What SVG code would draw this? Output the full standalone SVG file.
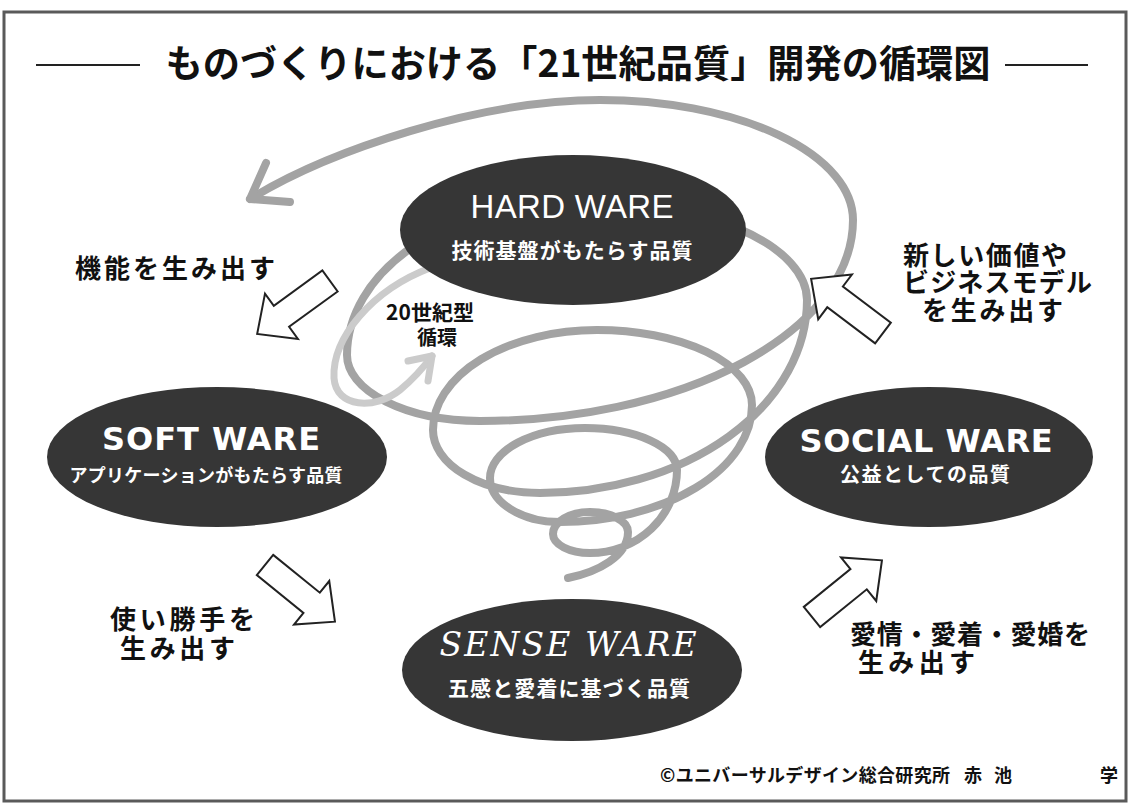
<svg xmlns="http://www.w3.org/2000/svg" width="1130" height="805" viewBox="0 0 1130 805">
<style>
.jp{font-family:"Noto Sans CJK JP","Noto Sans CJK SC",sans-serif;font-weight:700;}
.lbl{font-size:26px;fill:#111;}
.ell{fill:#363636;}
.wt{fill:#fff;text-anchor:middle;}
.sp{fill:none;stroke:#a3a3a3;stroke-width:8;stroke-linecap:round;stroke-linejoin:round;}
.sp2{fill:none;stroke:#cbcbcb;stroke-width:7;stroke-linecap:round;stroke-linejoin:round;}
.blk{fill:#fff;stroke:#222;stroke-width:2;stroke-linejoin:miter;}
.en{font-family:"DejaVu Sans","Liberation Sans",sans-serif;font-weight:700;}
</style>
<defs>
<path id="blkarrow" d="M0,-13 L60,-13 L60,-28 L90,0 L60,28 L60,13 L0,13 Z"/>
</defs>
<rect x="0" y="0" width="1130" height="805" fill="#fff"/>
<rect x="4" y="12" width="1122" height="789" fill="none" stroke="#5a5a5a" stroke-width="3"/>
<g id="title">
<line x1="36" y1="65" x2="140" y2="65" stroke="#222" stroke-width="2"/>
<line x1="1005" y1="65" x2="1088" y2="65" stroke="#222" stroke-width="2"/>
<text class="jp" x="578" y="77" text-anchor="middle" font-size="38" fill="#111" textLength="825" lengthAdjust="spacingAndGlyphs">ものづくりにおける「21世紀品質」開発の循環図</text>
</g>
<g id="connectors">
<path class="sp" d="M568,578 C598,572 628,556 628,532 A38,20 0 0 0 590,512 A37,22 0 0 0 553,534 A37,19 0 0 0 590,553 A87,83 0 0 0 677,470 A92,42 0 0 0 585,428 A95,50 0 0 0 490,478 A70,44 0 0 0 560,522 A192,117 0 0 0 752,405 A155,75 0 0 0 597,330 A164,100 0 0 0 433,430 A107,63 0 0 0 540,493 A267,193 0 0 0 807,300 A229,100 0 0 0 578,200 A231,155 0 0 0 347,355 A133,66 0 0 0 480,421 A373,201 0 0 0 853,220 A253,120 0 0 0 600,100 C480,100 330,150 250,199"/>
<path class="sp" d="M266,163 L250,199 L290,202"/>
<path class="sp2" d="M430,268 C372,290 332,338 334,378 C336,408 375,410 400,390 Q418,375 432,356"/>
<path class="sp2" d="M408,361 L432,356 L428,381"/>
<use href="#blkarrow" class="blk" transform="translate(330,281) rotate(144)"/>
<use href="#blkarrow" class="blk" transform="translate(265,565) rotate(39)"/>
<use href="#blkarrow" class="blk" transform="translate(883,333) rotate(-143)"/>
<use href="#blkarrow" class="blk" transform="translate(812,617) rotate(-39)"/>
</g>
<g id="node-hardware">
<ellipse class="ell" cx="573" cy="230" rx="173" ry="75"/>
<text class="wt" x="572" y="218" font-family="Liberation Sans, sans-serif" font-size="33" textLength="203">HARD WARE</text>
<text class="jp wt" x="572" y="258" font-size="21" textLength="241">技術基盤がもたらす品質</text>
</g>
<g id="node-software">
<ellipse class="ell" cx="217" cy="457" rx="170" ry="70"/>
<text class="en wt" x="211" y="450" font-size="32" textLength="218">SOFT WARE</text>
<text class="jp wt" x="206" y="482" font-size="18" textLength="273">アプリケーションがもたらす品質</text>
</g>
<g id="node-socialware">
<ellipse class="ell" cx="929" cy="457" rx="164" ry="70"/>
<text class="en wt" x="926" y="452" font-size="32" textLength="253">SOCIAL WARE</text>
<text class="jp wt" x="925" y="482" font-size="20" textLength="170">公益としての品質</text>
</g>
<g id="node-senseware">
<ellipse class="ell" cx="572" cy="670" rx="170" ry="71"/>
<text class="wt" x="568" y="656" font-family="DejaVu Serif, serif" font-style="italic" font-size="33" textLength="257">SENSE WARE</text>
<text class="jp wt" x="569" y="696" font-size="21" textLength="242">五感と愛着に基づく品質</text>
</g>
<g id="labels">
<text class="jp lbl" x="75" y="278" textLength="200">機能を生み出す</text>
<text class="jp" x="430" y="320" font-size="21" fill="#111" text-anchor="middle">20世紀型</text>
<text class="jp" x="437" y="345" font-size="20" fill="#111" text-anchor="middle">循環</text>
<text class="jp lbl" x="903" y="265" textLength="164">新しい価値や</text>
<text class="jp lbl" x="903" y="292" textLength="189">ビジネスモデル</text>
<text class="jp lbl" x="922" y="320" textLength="141">を生み出す</text>
<text class="jp lbl" x="110" y="629" textLength="145">使い勝手を</text>
<text class="jp lbl" x="120" y="658" textLength="115">生み出す</text>
<text class="jp lbl" x="850" y="644" textLength="240">愛情・愛着・愛婚を</text>
<text class="jp lbl" x="858" y="672" textLength="117">生み出す</text>
<text class="jp" font-size="18" fill="#111" y="782"><tspan x="660" textLength="290">©ユニバーサルデザイン総合研究所</tspan><tspan x="964" textLength="48">赤池</tspan><tspan x="1100">学</tspan></text>
</g>
</svg>
